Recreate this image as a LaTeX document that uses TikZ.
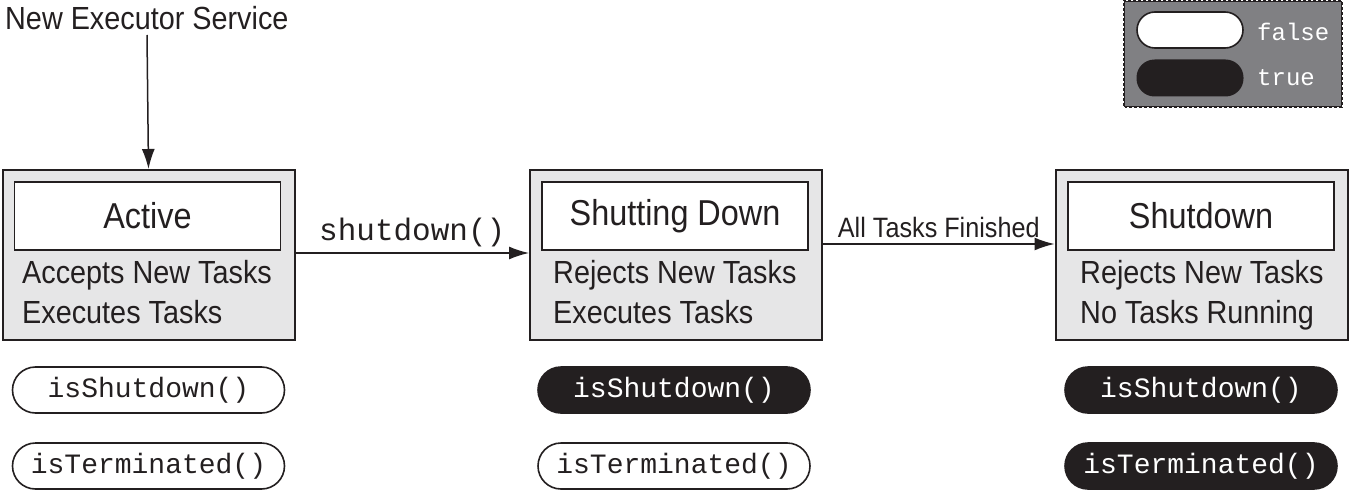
\documentclass[tikz,border=0pt]{standalone}
\usepackage{fontspec}
\setmainfont{Liberation Sans}[FakeStretch=0.9]
\newfontfamily\codefont{Liberation Mono}
\usetikzlibrary{arrows.meta,positioning}
\definecolor{boxgray}{HTML}{E6E6E7}
\definecolor{leggray}{HTML}{808083}
\definecolor{pillblack}{HTML}{231F20}
\tikzset{
  statebox/.style={draw=pillblack,line width=2pt,fill=boxgray,minimum width=292pt,minimum height=170pt,inner sep=0pt},
  titlebox/.style={draw=pillblack,line width=1.6pt,fill=white,minimum width=266pt,minimum height=68pt,inner sep=0pt,font=\fontsize{36}{40}\selectfont,text=pillblack},
  desc/.style={align=left,anchor=north west,inner sep=0pt,font=\fontsize{32}{40}\selectfont,text=pillblack},
  falsepill/.style={draw=pillblack,line width=1.6pt,fill=white,rounded corners=23pt,minimum width=272pt,minimum height=46pt,inner sep=0pt,font=\codefont\fontsize{28}{28}\selectfont,text=pillblack},
  truepill/.style={falsepill,fill=pillblack,text=white},
  conn/.style={line width=1.5pt,draw=pillblack,-{Latex[length=20pt,width=13pt]}},
  lbl/.style={inner sep=0pt,text=pillblack}
}
\begin{document}
\begin{tikzpicture}[x=1pt,y=-1pt]
\useasboundingbox (0,0) rectangle (1354,500);
% legend
\node[fill=leggray,minimum width=218pt,minimum height=106pt,inner sep=0pt] (leg) at (1233,54) {};
\draw[pillblack,line width=2pt] (leg.north west) rectangle (leg.south east);
\draw[white,line width=1pt,dash pattern=on 2pt off 3pt] (leg.north west) rectangle (leg.south east);
\node[draw=pillblack,line width=1.6pt,fill=white,rounded corners=18pt,minimum width=106pt,minimum height=36pt,inner sep=0pt] (lf) at (1190,30) {};
\node[fill=pillblack,rounded corners=18pt,minimum width=107pt,minimum height=37pt,inner sep=0pt] (lt) at (1190,78) {};
\node[lbl,text=white,anchor=west,font=\codefont\fontsize{24}{24}\selectfont] (lft) at (1257,32) {false};
\node[lbl,text=white,anchor=west,font=\codefont\fontsize{24}{24}\selectfont] (ltt) at (1257,78) {true};
% title
\node[lbl,anchor=west,font=\fontsize{32}{36}\selectfont] (start) at (5,18) {New Executor Service};
% state boxes
\node[statebox] (s1) at (148.5,255) {};
\node[statebox] (s2) at (676,255) {};
\node[statebox] (s3) at (1201.5,255) {};
\node[titlebox] (t1) at (147.5,216) {Active};
\node[titlebox] (t2) at (675,216) {Shutting Down};
\node[titlebox] (t3) at (1201,216) {Shutdown};
\node[desc] (d1) at (22,260) {Accepts New Tasks\\Executes Tasks};
\node[desc] (d2) at (553,260) {Rejects New Tasks\\Executes Tasks};
\node[desc] (d3) at (1080,260) {Rejects New Tasks\\No Tasks Running};
% connectors
\coordinate (top) at (147,35);
\draw[conn] (top) -- (s1.north);
\draw[conn] (s1.east |- 0,253) -- node[above=2pt,font=\codefont\fontsize{31}{31}\selectfont,text=pillblack] (l1) {shutdown()} (s2.west |- 0,253);
\draw[conn] (s2.east |- 0,244) -- node[above=2pt,font=\fontsize{28}{30}\selectfont,text=pillblack] (l2) {All Tasks Finished} (s3.west |- 0,244);
% pills
\node[falsepill] (a1) at (148.5,390) {isShutdown()};
\node[falsepill] (a2) at (148.5,466) {isTerminated()};
\node[truepill] (b1) at (674,390) {isShutdown()};
\node[falsepill] (b2) at (674,466) {isTerminated()};
\node[truepill] (c1) at (1201,390) {isShutdown()};
\node[truepill] (c2) at (1201,466) {isTerminated()};
\end{tikzpicture}
\end{document}
